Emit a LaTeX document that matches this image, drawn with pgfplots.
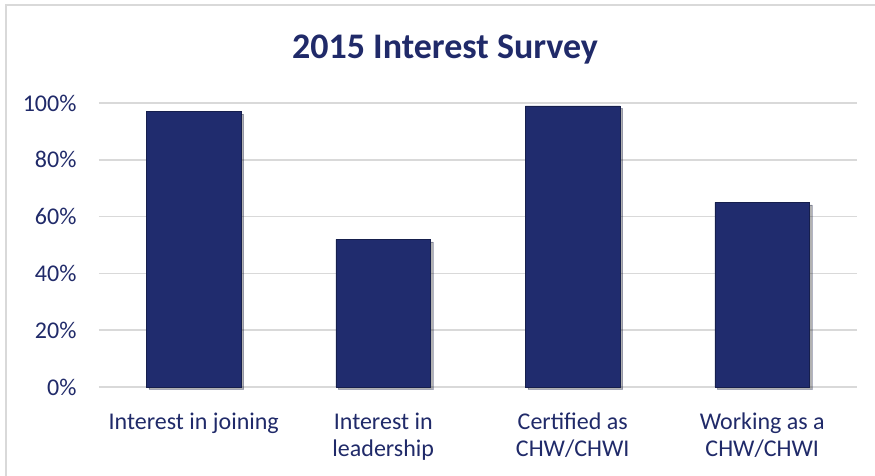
\documentclass[border=0pt]{standalone}
\usepackage{pgfplots}
\pgfplotsset{compat=1.18}
\usepackage{fontspec}
\setmainfont{Carlito}
\usetikzlibrary{shadows}

\definecolor{navy}{RGB}{32,44,110}
\definecolor{navytext}{RGB}{32,42,105}
\definecolor{gridgray}{RGB}{217,217,217}
\definecolor{framegray}{RGB}{217,217,217}

\begin{document}
\begin{tikzpicture}[x=1pt,y=1pt]
  \useasboundingbox (0,0) rectangle (875,476);
  % chart frame (left and top edges)
  \draw[framegray, line width=1.6pt] (6,0) -- (6,471) -- (875,471);

  \begin{axis}[
    at={(99pt,89pt)}, anchor=south west,
    scale only axis,
    width=758pt, height=284pt,
    ymin=0, ymax=100,
    xmin=-0.5, xmax=3.5,
    axis line style={draw=none},
    ymajorgrids,
    grid style={gridgray, line width=1.6pt},
    ytick={0,20,40,60,80,100},
    yticklabel={\pgfmathprintnumber{\tick}\%},
    /pgf/number format/assume math mode=true,
    tick style={draw=none},
    yticklabel style={font=\fontsize{24}{27}\selectfont, text=navytext, xshift=-19pt},
    xtick=data,
    xticklabels={Interest in joining, {Interest in\\leadership}, {Certified as\\CHW/CHWI}, {Working as a\\CHW/CHWI}},
    xticklabel style={font=\fontsize{24}{27}\selectfont, text=navytext, align=center, anchor=north, yshift=-18pt},
    ybar, bar width=0.5,
    clip=false,
  ]
    \addplot[fill=navy, draw=navy!70!black, line width=0.6pt,
      drop shadow={shadow xshift=2.5pt, shadow yshift=-2.5pt, opacity=0.3, fill=black}]
      coordinates {(0,97) (1,52) (2,99) (3,65)};
  \end{axis}

  \node[anchor=base, font=\fontsize{36}{43}\selectfont\bfseries, text=navytext]
    at (445,417) {2015 Interest Survey};
\end{tikzpicture}
\end{document}
